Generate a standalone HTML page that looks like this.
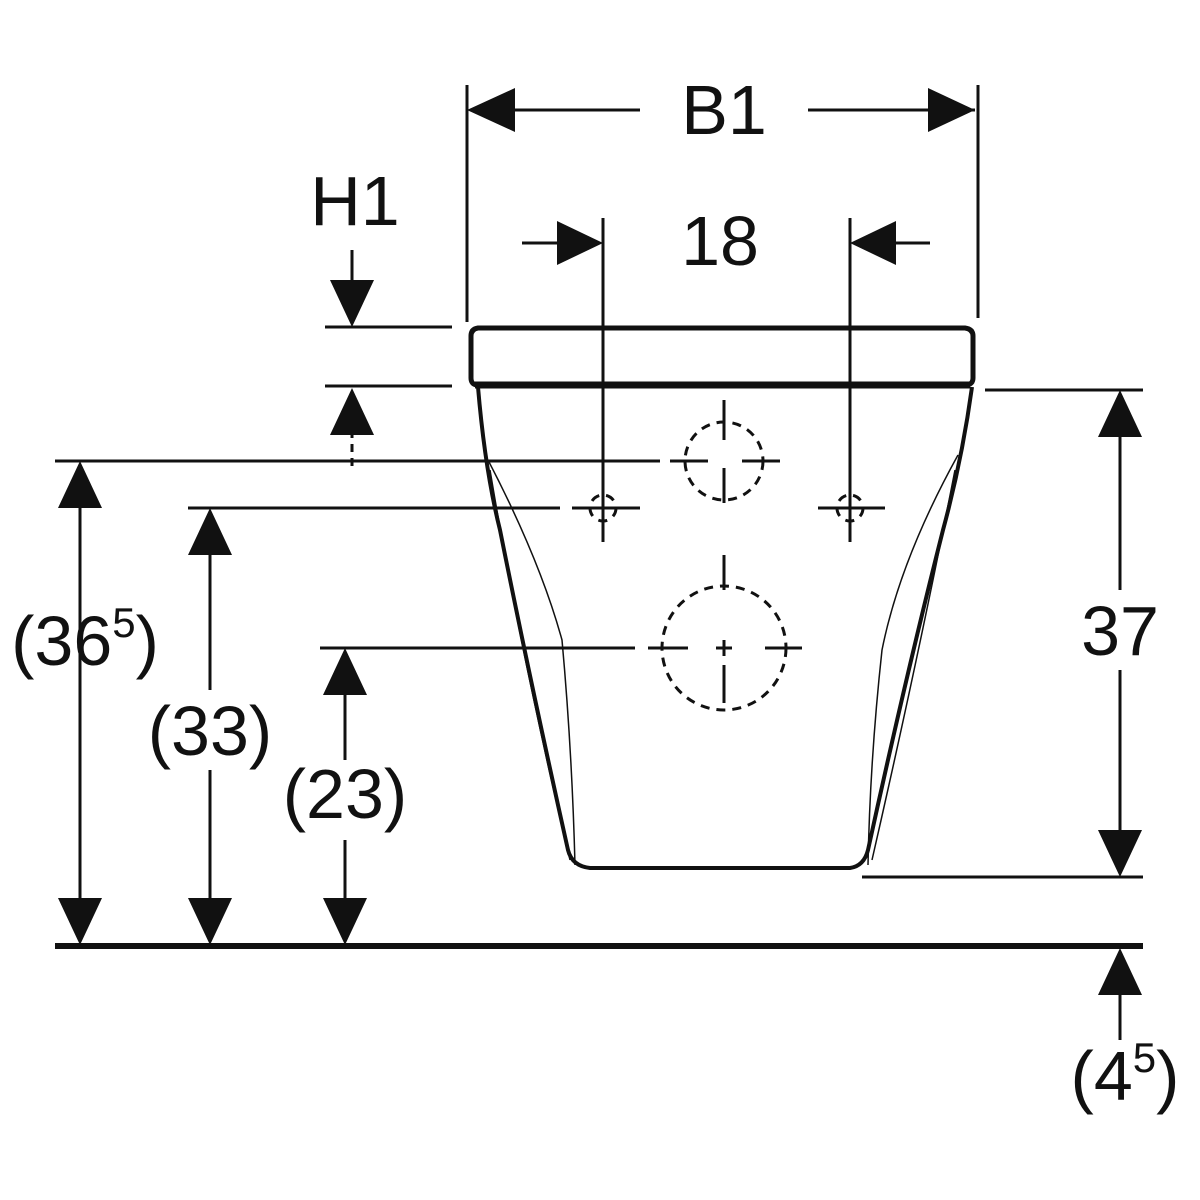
<!DOCTYPE html>
<html><head><meta charset="utf-8"><style>html,body{margin:0;padding:0;background:#fff}svg{display:block}</style></head>
<body>
<svg width="1200" height="1200" viewBox="0 0 1200 1200" xmlns="http://www.w3.org/2000/svg">
<g stroke="#111" fill="none" stroke-width="3">
<!-- extension lines -->
<line x1="467" y1="85" x2="467" y2="322"/>
<line x1="978" y1="85" x2="978" y2="318"/>
<line x1="470" y1="110" x2="640" y2="110"/>
<line x1="808" y1="110" x2="975" y2="110"/>
<line x1="603" y1="218" x2="603" y2="542"/>
<line x1="850" y1="218" x2="850" y2="542"/>
<line x1="522" y1="243" x2="600" y2="243"/>
<line x1="853" y1="243" x2="930" y2="243"/>
<line x1="352" y1="250" x2="352" y2="300"/>
<line x1="325" y1="327" x2="452" y2="327"/>
<line x1="325" y1="386" x2="452" y2="386"/>
<line x1="352" y1="430" x2="352" y2="472" stroke-dasharray="8 6"/>
<line x1="55" y1="461" x2="660" y2="461"/>
<line x1="188" y1="508" x2="560" y2="508"/>
<line x1="320" y1="648" x2="635" y2="648"/>
<line x1="985" y1="390" x2="1143" y2="390"/>
<line x1="862" y1="877" x2="1143" y2="877"/>
<line x1="80" y1="480" x2="80" y2="930"/>
<line x1="210" y1="525" x2="210" y2="690"/>
<line x1="210" y1="770" x2="210" y2="930"/>
<line x1="345" y1="665" x2="345" y2="760"/>
<line x1="345" y1="840" x2="345" y2="930"/>
<line x1="1120" y1="410" x2="1120" y2="590"/>
<line x1="1120" y1="670" x2="1120" y2="860"/>
<line x1="1120" y1="965" x2="1120" y2="1040"/>
<!-- floor -->
<line x1="55" y1="946" x2="1143" y2="946" stroke-width="6"/>
<!-- lid -->
<path d="M478 328 L965 328 Q973 329 973 336 L973 378 Q973 385 965 385 L478 385 Q471 385 471 378 L471 336 Q471 329 478 328 Z" stroke-width="5"/>
<line x1="475" y1="385" x2="970" y2="385" stroke-width="7"/>
<!-- bowl -->
<path d="M478 387 Q485 470 500 530 Q530 680 568 850 Q572 866 590 868 L850 868 Q864 866 868 850 Q905 680 943 530 Q962 460 972 387" stroke-width="4"/>
<path d="M488 460 Q540 560 562 640 Q572 750 575 865" stroke-width="1.5"/>
<path d="M490 470 Q520 650 570 860" stroke-width="1.5"/>
<path d="M958 455 Q900 560 882 650 Q870 760 868 865" stroke-width="1.5"/>
<path d="M955 470 Q920 650 872 860" stroke-width="1.5"/>
<!-- dashed circles -->
<g stroke-dasharray="9 7" stroke-width="3">
<circle cx="724" cy="461" r="39"/>
<circle cx="724" cy="648" r="62"/>
<circle cx="603" cy="508" r="13"/>
<circle cx="850" cy="508" r="13"/>
</g>
<g stroke-width="3">
<line x1="724" y1="400" x2="724" y2="440"/><line x1="724" y1="468" x2="724" y2="503"/>
<line x1="670" y1="461" x2="708" y2="461"/><line x1="742" y1="461" x2="780" y2="461"/>
<line x1="724" y1="555" x2="724" y2="590"/><line x1="724" y1="665" x2="724" y2="703"/>
<line x1="648" y1="648" x2="688" y2="648"/><line x1="765" y1="648" x2="802" y2="648"/>
<line x1="716" y1="648" x2="732" y2="648"/><line x1="724" y1="640" x2="724" y2="656"/>
<line x1="572" y1="508" x2="640" y2="508"/>
<line x1="818" y1="508" x2="885" y2="508"/>
</g>
</g>
<!-- arrowheads -->
<g fill="#111">
<polygon points="467,110 515,88 515,132"/>
<polygon points="975,110 928,88 928,132"/>
<polygon points="603,243 557,221 557,265"/>
<polygon points="850,243 896,221 896,265"/>
<polygon points="352,327 330,280 374,280"/>
<polygon points="352,388 330,435 374,435"/>
<polygon points="80,461 58,508 102,508"/>
<polygon points="80,945 58,898 102,898"/>
<polygon points="210,508 188,555 232,555"/>
<polygon points="210,945 188,898 232,898"/>
<polygon points="345,648 323,695 367,695"/>
<polygon points="345,945 323,898 367,898"/>
<polygon points="1120,390 1098,437 1142,437"/>
<polygon points="1120,877 1098,830 1142,830"/>
<polygon points="1120,948 1098,995 1142,995"/>
</g>
<g font-family="Liberation Sans, sans-serif" font-size="70" fill="#111" text-anchor="middle">
<text x="724" y="134">B1</text>
<text x="720" y="265">18</text>
<text x="355" y="225">H1</text>
<text x="85" y="665">(36<tspan font-size="42" dy="-28">5</tspan><tspan dy="28">)</tspan></text>
<text x="210" y="755">(33)</text>
<text x="345" y="818">(23)</text>
<text x="1120" y="655">37</text>
<text x="1125" y="1100">(4<tspan font-size="42" dy="-28">5</tspan><tspan dy="28">)</tspan></text>
</g>
</svg>
</body></html>
